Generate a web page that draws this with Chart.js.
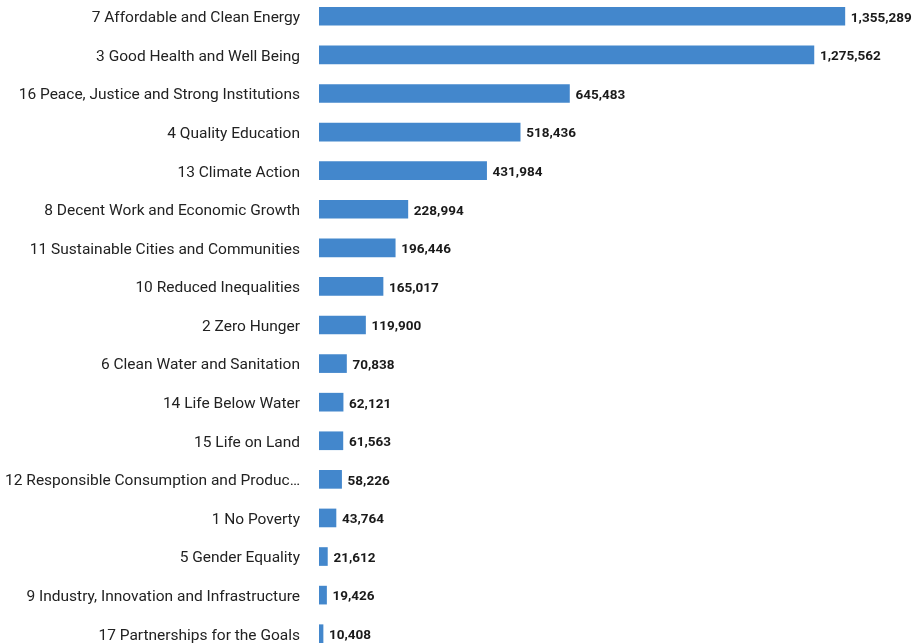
<!DOCTYPE html>
<html>
<head>
<meta charset="utf-8">
<script src="https://cdn.jsdelivr.net/npm/chart.js@4/dist/chart.umd.min.js"></script>
<style>
    html, body { margin: 0; padding: 0; background: #fff; overflow: hidden; }
    #wrap { position: absolute; left: 0; top: -3px; width: 912px; height: 656px; }
</style>
</head>
<body>
<div id="wrap"><canvas id="chart" width="912" height="656"></canvas></div>
<script>
// SDG goals ranked by total
const GOALS = [
    '7 Affordable and Clean Energy',
    '3 Good Health and Well Being',
    '16 Peace, Justice and Strong Institutions',
    '4 Quality Education',
    '13 Climate Action',
    '8 Decent Work and Economic Growth',
    '11 Sustainable Cities and Communities',
    '10 Reduced Inequalities',
    '2 Zero Hunger',
    '6 Clean Water and Sanitation',
    '14 Life Below Water',
    '15 Life on Land',
    '12 Responsible Consumption and Produc\u2026',
    '1 No Poverty',
    '5 Gender Equality',
    '9 Industry, Innovation and Infrastructure',
    '17 Partnerships for the Goals'
];
const TOTALS = [1355289, 1275562, 645483, 518436, 431984, 228994, 196446, 165017, 119900,
    70838, 62121, 61563, 58226, 43764, 21612, 19426, 10408];
const X_MAX = 1500000;

const BAR_COLOR = 'rgb(67, 135, 204)';

// category names left of the axis and the number just past the end of each bar
const rowLabels = {
    id: 'rowLabels',
    afterDatasetsDraw(chart) {
        const { ctx, chartArea } = chart;
        const yScale = chart.scales.y;
        const meta = chart.getDatasetMeta(0);
        ctx.save();
        ctx.textBaseline = 'middle';

        ctx.font = '15.5px Roboto';
        ctx.fillStyle = '#222';
        ctx.textAlign = 'right';
        yScale.getLabels().forEach((label, i) => {
            ctx.fillText(label, chartArea.left - 19, yScale.getPixelForTick(i) + 2);
        });

        ctx.font = 'bold 13.5px Roboto';
        ctx.fillStyle = '#1a1a1a';
        ctx.textAlign = 'left';
        meta.data.forEach((bar, i) => {
            ctx.fillText(TOTALS[i].toLocaleString('en-US'), bar.x + 6, bar.y + 2);
        });
        ctx.restore();
    }
};

new Chart(document.getElementById('chart'), {
    type: 'bar',
    data: {
        labels: GOALS,
        datasets: [{
            data: TOTALS,
            backgroundColor: BAR_COLOR,
            barThickness: 18
        }]
    },
    options: {
        indexAxis: 'y',
        responsive: false,
        animation: false,
        layout: { padding: { left: 0, top: 0, bottom: 0, right: 11 } },
        plugins: {
            legend: { display: false },
            tooltip: { enabled: false }
        },
        scales: {
            x: {
                display: false,
                min: 0,
                max: X_MAX
            },
            y: {
                grid: { display: false, drawTicks: false },
                border: { display: false },
                afterFit: (scale) => {
                    scale.width = 319;
                    scale.paddingTop = 0;
                    scale.paddingBottom = 0;
                },
                ticks: { display: false, autoSkip: false }
            }
        }
    },
    plugins: [rowLabels]
});
</script>
</body>
</html>
